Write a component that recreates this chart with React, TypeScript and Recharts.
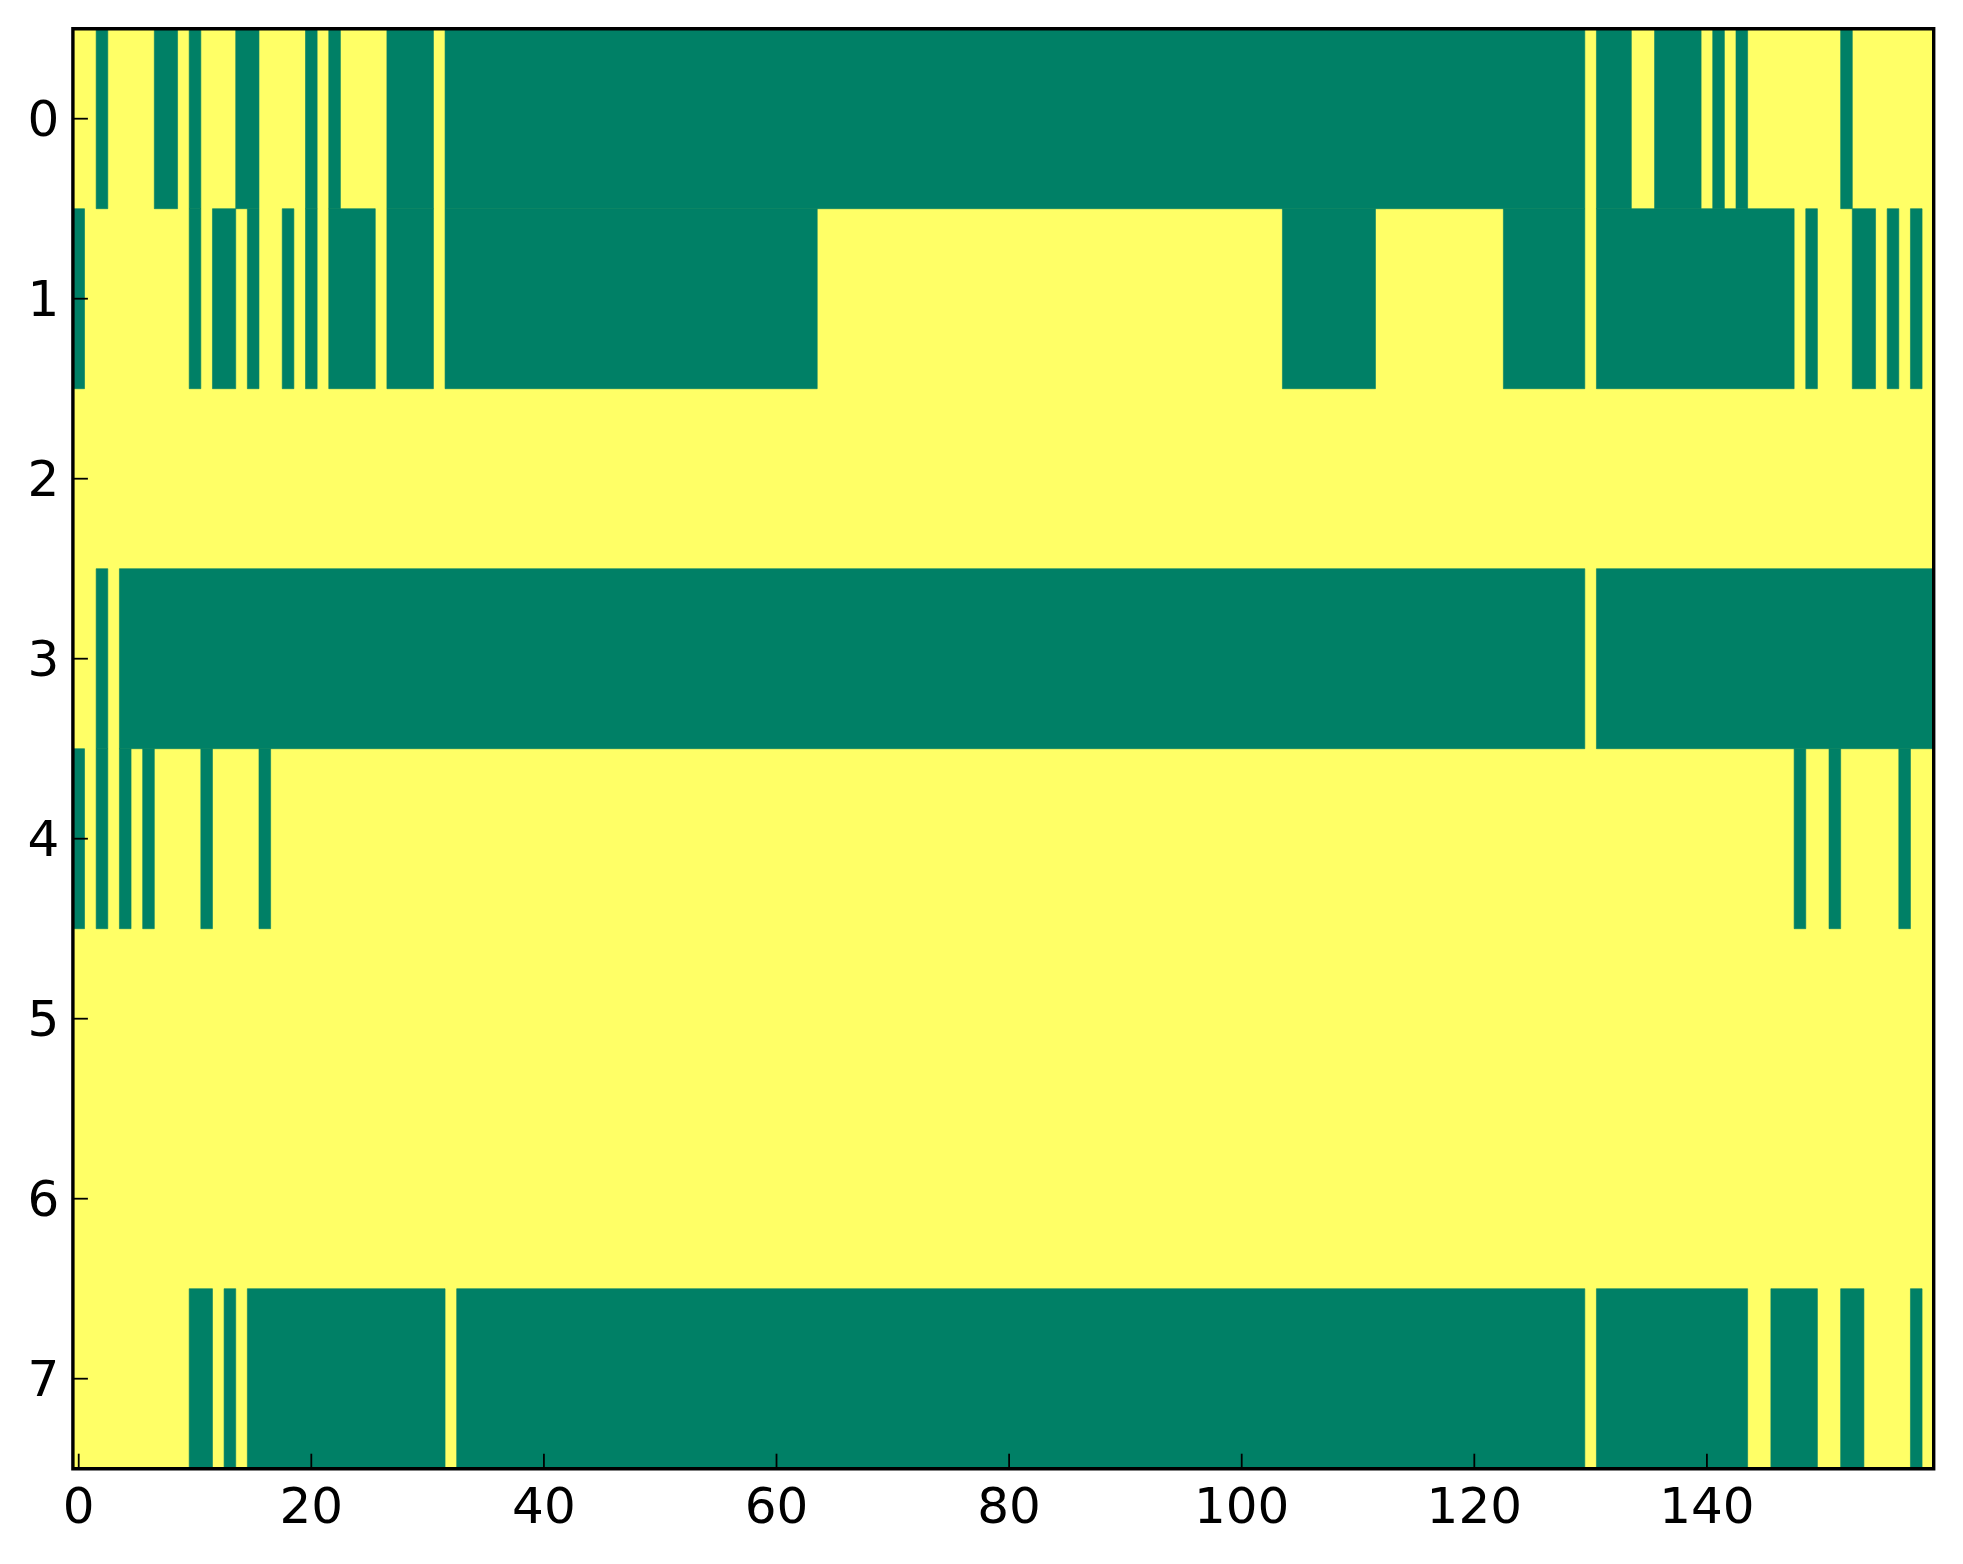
import React from 'react';
import { ComposedChart, XAxis, YAxis, ReferenceArea } from 'recharts';

// Binary matrix (8 rows x 160 columns), stored as runs of "green" (value 0) cells per row.
const row0Green: number[][] = [[2, 2], [7, 8], [10, 10], [14, 15], [20, 20], [22, 22], [27, 30], [32, 129], [131, 133], [136, 139], [141, 141], [143, 143], [152, 152]];
const row1Green: number[][] = [[0, 0], [10, 10], [12, 13], [15, 15], [18, 18], [20, 20], [22, 25], [27, 30], [32, 63], [104, 111], [123, 129], [131, 147], [149, 149], [153, 154], [156, 156], [158, 158]];
const row2Green: number[][] = [];
const row3Green: number[][] = [[2, 2], [4, 129], [131, 159]];
const row4Green: number[][] = [[0, 0], [2, 2], [4, 4], [6, 6], [11, 11], [16, 16], [148, 148], [151, 151], [157, 157]];
const row5Green: number[][] = [];
const row6Green: number[][] = [];
const row7Green: number[][] = [[10, 11], [13, 13], [15, 31], [33, 129], [131, 143], [146, 149], [152, 153], [158, 158]];

const rows = [row0Green, row1Green, row2Green, row3Green, row4Green, row5Green, row6Green, row7Green];
const nCols = 160;
const xTicks = [0, 20, 40, 60, 80, 100, 120, 140];
const yTicks = [0, 1, 2, 3, 4, 5, 6, 7];

const GREEN = '#008066';
const YELLOW = '#ffff66';
const FONT = { fontFamily: 'DejaVu Sans', fontSize: 50, fill: '#000' };
const TICKLINE = { stroke: '#000', strokeWidth: 1.8 };

export default function App() {
  const areas: React.ReactNode[] = [];
  rows.forEach((runs, r) => {
    runs.forEach(([a, b], k) => {
      areas.push(
        <ReferenceArea
          key={`g-${r}-${k}`}
          x1={a - 0.5}
          x2={b + 0.5}
          y1={r - 0.5}
          y2={r + 0.5}
          fill={GREEN}
          fillOpacity={1}
          stroke={GREEN}
          strokeWidth={0.6}
          ifOverflow="visible"
        />
      );
    });
  });

  return (
    <div style={{ position: 'absolute', left: 0, top: 0, width: 1963, height: 1564, background: '#fff' }}>
      <ComposedChart
        width={1963}
        height={1564}
        data={[]}
        margin={{ top: 8.7, right: 9.3, bottom: 65.3, left: 12.9 }}
      >
        <XAxis
          xAxisId={0}
          type="number"
          dataKey="x"
          domain={[-0.5, nCols - 0.5]}
          ticks={xTicks}
          allowDataOverflow
          orientation="bottom"
          height={30}
          tickSize={-15}
          tickMargin={34}
          tick={FONT}
          tickLine={TICKLINE}
          axisLine={false}
          interval={0}
        />
        <XAxis
          xAxisId="top"
          type="number"
          domain={[-0.5, nCols - 0.5]}
          ticks={xTicks}
          allowDataOverflow
          orientation="top"
          height={20}
          tickSize={-15}
          tick={false}
          tickLine={TICKLINE}
          axisLine={false}
          interval={0}
        />
        <YAxis
          yAxisId={0}
          type="number"
          dataKey="y"
          domain={[-0.5, 7.5]}
          ticks={yTicks}
          allowDataOverflow
          reversed
          orientation="left"
          width={60}
          tickSize={-15}
          tickMargin={28.6}
          tick={FONT}
          tickLine={TICKLINE}
          axisLine={false}
          interval={0}
        />
        <YAxis
          yAxisId="right"
          type="number"
          domain={[-0.5, 7.5]}
          ticks={yTicks}
          allowDataOverflow
          reversed
          orientation="right"
          width={20}
          tickSize={-15}
          tick={false}
          tickLine={TICKLINE}
          axisLine={false}
          interval={0}
        />
        <ReferenceArea
          x1={-0.5}
          x2={nCols - 0.5}
          y1={-0.5}
          y2={7.5}
          fill={YELLOW}
          fillOpacity={1}
          stroke="none"
          ifOverflow="visible"
        />
        {areas}
        <ReferenceArea
          x1={-0.5}
          x2={nCols - 0.5}
          y1={-0.5}
          y2={7.5}
          fill="none"
          stroke="#000"
          strokeWidth={3.4}
          ifOverflow="visible"
        />
      </ComposedChart>
    </div>
  );
}
